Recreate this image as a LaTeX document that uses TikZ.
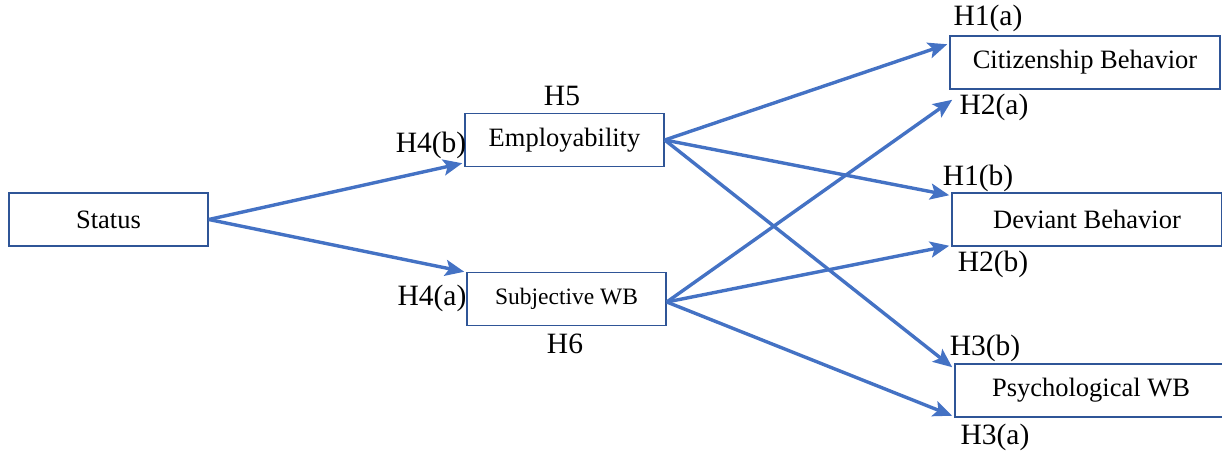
\documentclass[tikz,border=0pt]{standalone}
\usepackage{fontspec}
\setmainfont{Liberation Serif}
\usetikzlibrary{arrows.meta}
\definecolor{linkblue}{HTML}{4472C4}
\definecolor{boxblue}{HTML}{2F5597}

\begin{document}
\begin{tikzpicture}[x = 1pt, y = -1pt,
    varbox/.style = {draw=boxblue, line width=1.5pt, minimum height=53pt, inner sep=0pt, font=\fontsize{26.5}{26.5}\selectfont},
    hyp/.style = {font=\fontsize{29.5}{29.5}\selectfont, inner sep=0pt},
    link/.style = {draw=linkblue, line width=3.4pt, -{Stealth[length=19pt, width=16pt, inset=4pt]}}]
        \useasboundingbox (0,0) rectangle (1222,452);
        % variables
        \node[varbox, minimum width=199pt] (status) at (108.5,219.5) {Status};
        \node[varbox, minimum width=199pt] (emp) at (564.5,140) {Employability};
        \node[varbox, minimum width=199pt, font=\fontsize{23.5}{23.5}\selectfont] (swb) at (566.5,299) {Subjective WB};
        \node[varbox, minimum width=270pt] (cit) at (1085,62.5) {Citizenship Behavior};
        \node[varbox, minimum width=270pt] (dev) at (1087,219.5) {Deviant Behavior};
        \node[varbox, minimum width=272pt] (psy) at (1091,390.5) {Psychological WB};
        % hypotheses
        \node[hyp] (h5) at (562,96) {H5};
        \node[hyp] (h6) at (565,344) {H6};
        \node[hyp] (h4b) at (431,145) {H4(b)};
        \node[hyp] (h4a) at (432,298) {H4(a)};
        \node[hyp] (h1a) at (988,18) {H1(a)};
        \node[hyp] (h2a) at (994,107) {H2(a)};
        \node[hyp] (h1b) at (978,178) {H1(b)};
        \node[hyp] (h2b) at (993,264) {H2(b)};
        \node[hyp] (h3b) at (985,348) {H3(b)};
        \node[hyp] (h3a) at (995,437) {H3(a)};
        % paths
        \draw[link] (status.east) -- ([xshift=-2pt, yshift=4pt]emp.south west);
        \draw[link] (status.east) -- ([xshift=-2pt]swb.north west);
        \draw[link] (emp.east) -- ([xshift=-2pt, yshift=-9pt]cit.north west);
        \draw[link] (emp.east) -- ([xshift=-2pt, yshift=-3pt]dev.north west);
        \draw[link] (emp.east) -- ([xshift=-2pt, yshift=-4pt]psy.north west);
        \draw[link] ([yshift=-3pt]swb.east) -- ([xshift=3pt, yshift=-10pt]cit.south west);
        \draw[link] ([yshift=-3pt]swb.east) -- ([xshift=-2pt, yshift=1pt]dev.south west);
        \draw[link] ([yshift=-3pt]swb.east) -- ([xshift=-2pt, yshift=2pt]psy.south west);
      \end{tikzpicture}
\end{document}
